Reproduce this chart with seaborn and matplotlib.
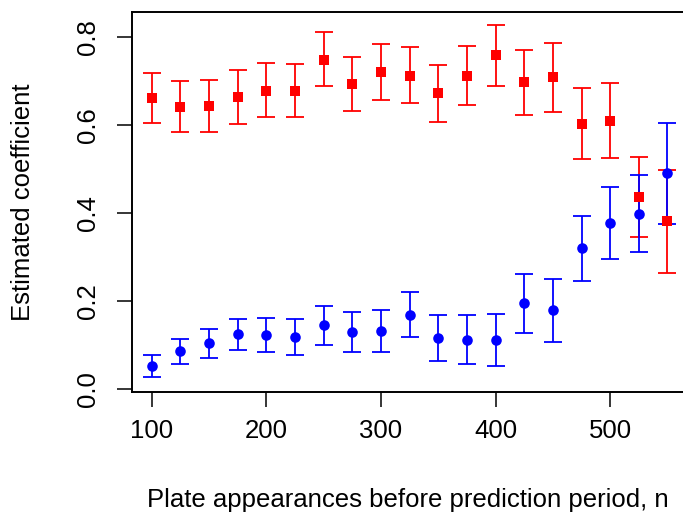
import numpy as np
import pandas as pd
import matplotlib
matplotlib.use("Agg")
import matplotlib.pyplot as plt
import seaborn as sns

# ---- data ----
n = [100, 125, 150, 175, 200, 225, 250, 275, 300, 325, 350, 375, 400, 425, 450, 475, 500, 525, 550]

red_est   = [0.663, 0.642, 0.645, 0.665, 0.679, 0.679, 0.749, 0.695, 0.722, 0.713, 0.674, 0.713, 0.759, 0.699, 0.709, 0.604, 0.610, 0.437, 0.382]
red_upper = [0.720, 0.701, 0.703, 0.725, 0.742, 0.740, 0.812, 0.756, 0.785, 0.778, 0.738, 0.781, 0.828, 0.772, 0.787, 0.685, 0.697, 0.528, 0.498]
red_lower = [0.605, 0.584, 0.584, 0.604, 0.618, 0.618, 0.689, 0.633, 0.658, 0.650, 0.608, 0.646, 0.690, 0.624, 0.630, 0.524, 0.526, 0.346, 0.263]

blue_est   = [0.052, 0.086, 0.103, 0.124, 0.122, 0.118, 0.144, 0.130, 0.131, 0.169, 0.116, 0.112, 0.112, 0.195, 0.179, 0.320, 0.378, 0.399, 0.491]
blue_upper = [0.077, 0.114, 0.135, 0.159, 0.160, 0.159, 0.188, 0.175, 0.179, 0.220, 0.169, 0.168, 0.171, 0.261, 0.250, 0.393, 0.460, 0.487, 0.605]
blue_lower = [0.026, 0.056, 0.071, 0.088, 0.083, 0.076, 0.100, 0.084, 0.084, 0.118, 0.063, 0.056, 0.052, 0.128, 0.107, 0.245, 0.296, 0.311, 0.375]

x_ticks = [100, 200, 300, 400, 500]
y_ticks = [0.0, 0.2, 0.4, 0.6, 0.8]
y_tick_labels = ["0.0", "0.2", "0.4", "0.6", "0.8"]
x_label = "Plate appearances before prediction period, n"
y_label = "Estimated coefficient"

sns.set_theme(style="white")
plt.rcParams["font.family"] = ["Liberation Sans", "DejaVu Sans"]

df_red = pd.DataFrame({"n": n, "est": red_est, "lo": red_lower, "hi": red_upper})
df_blue = pd.DataFrame({"n": n, "est": blue_est, "lo": blue_lower, "hi": blue_upper})

fig = plt.figure(figsize=(6.83, 5.14), dpi=100)
W, H = 683, 514
left, right, bottom, top = 131.7, 688.0, 392.0, 11.7
ax = fig.add_axes([left / W, (H - bottom) / H, (right - left) / W, (bottom - top) / H])

for df, col, mk, sz in [(df_red, "red", "s", 56), (df_blue, "blue", "o", 58)]:
    ax.errorbar(df["n"], df["est"],
                yerr=[df["est"] - df["lo"], df["hi"] - df["est"]],
                fmt="none", ecolor=col, elinewidth=1.3, capsize=6.2, capthick=1.3, zorder=2)
    sns.scatterplot(data=df, x="n", y="est", color=col, marker=mk, s=sz,
                    edgecolor=col, linewidth=0, ax=ax, zorder=3, legend=False)

# axis limits (R style 4% expansion)
ax.set_xlim(82.5, 82.5 + (right - left) / 114.6 * 100)
y0_px, y08_px = 388.7, 37.5
ppu = (y0_px - y08_px) / 0.8
ax.set_ylim((y0_px - bottom) / ppu, (y0_px - top) / ppu)

ax.set_xticks(x_ticks)
ax.set_xticklabels([str(v) for v in x_ticks])
ax.set_yticks(y_ticks)
ax.set_yticklabels(y_tick_labels, rotation=90, va="center")

fs = 18.5
ax.tick_params(axis="both", direction="out", length=10.8, width=1.1, color="black",
               labelsize=fs, labelcolor="black", bottom=True, left=True)
ax.tick_params(axis="x", pad=9)
ax.tick_params(axis="y", pad=12)

for s in ax.spines.values():
    s.set_visible(True)
    s.set_color("black")
    s.set_linewidth(1.4)

ax.set_xlabel(x_label, fontsize=fs, color="black")
ax.set_ylabel(y_label, fontsize=fs, color="black")
ax.xaxis.label.set_va("center")
ax.yaxis.label.set_va("center")
ax.xaxis.set_label_coords((408 - left) / (right - left), (bottom - 500) / (bottom - top))
ax.yaxis.set_label_coords((23 - left) / (right - left), 0.5)

fig.savefig("out.png", dpi=100)
